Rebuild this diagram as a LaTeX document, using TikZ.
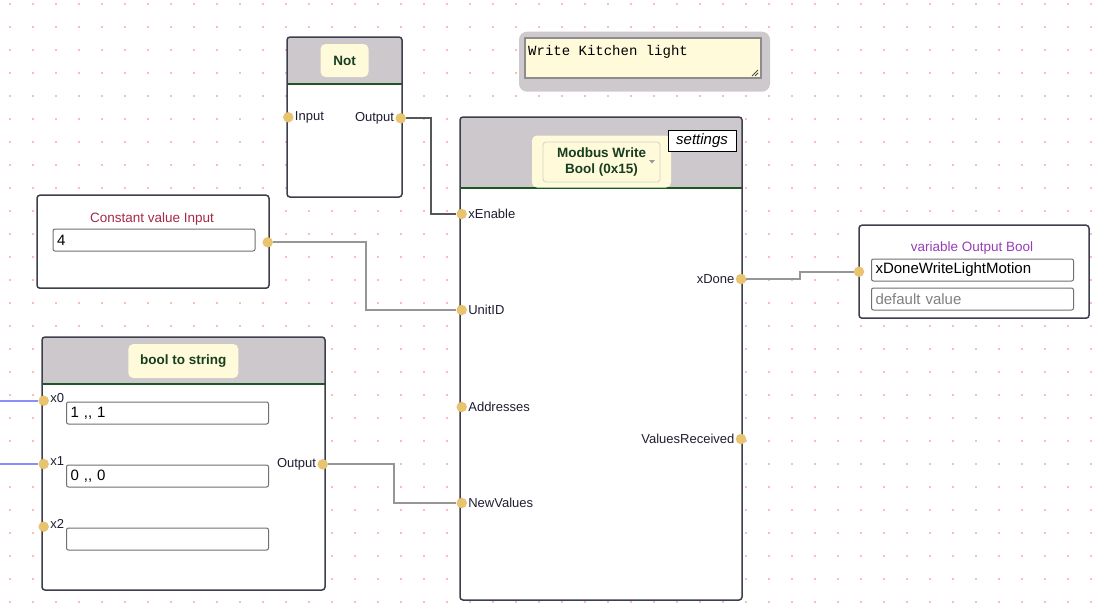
\documentclass[tikz,border=0pt]{standalone}
\usepackage{fontspec}
\setmainfont{Liberation Sans}
\setmonofont{Liberation Mono}
\usepackage{xcolor}

\definecolor{hdrgray}{RGB}{205,200,204}
\definecolor{chipyel}{RGB}{255,250,218}
\definecolor{sepgreen}{RGB}{28,88,36}
\definecolor{titgreen}{RGB}{22,62,32}
\definecolor{portc}{RGB}{232,196,112}
\definecolor{framec}{RGB}{62,62,76}
\definecolor{wirec}{RGB}{150,150,150}
\definecolor{wiredk}{RGB}{85,88,88}
\definecolor{bluewire}{RGB}{140,140,250}
\definecolor{gridc}{RGB}{245,120,120}
\definecolor{constc}{RGB}{165,42,72}
\definecolor{varc}{RGB}{150,62,180}
\definecolor{cmtgray}{RGB}{206,201,205}
\definecolor{labc}{RGB}{30,30,50}

% block with grey header, green rule and frame
\newcommand{\fblock}[5]{%
  \fill[white, rounded corners=3pt] (#1,#2) rectangle (#3,#4);
  \begin{scope}
    \clip[rounded corners=3pt] (#1,#2) rectangle (#3,#4);
    \fill[hdrgray] (#1,#2) rectangle (#3,#5);
  \end{scope}
  \draw[sepgreen, line width=2.2pt] (#1,#5) -- (#3,#5);
  \draw[frame] (#1,#2) rectangle (#3,#4);}

\begin{document}
\begin{tikzpicture}[x=1pt, y=-1pt,
    frame/.style={framec, line width=1.5pt, rounded corners=3pt},
    plainbox/.style={draw=framec, line width=1.5pt, fill=white, rounded corners=3pt, inner sep=0pt},
    chip/.style={fill=chipyel, rounded corners=5pt, text=titgreen, font=\fontsize{13.5}{16}\selectfont\bfseries, align=center, inner sep=0pt},
    port/.style={circle, fill=portc, minimum size=10.5pt, inner sep=0pt},
    lab/.style={text=labc, font=\fontsize{13}{15}\selectfont, inner sep=1pt},
    fld/.style={draw={rgb,255:red,112;green,112;blue,112}, line width=1pt, fill=white, rounded corners=2pt, minimum height=22pt, text width=194pt, inner xsep=4pt, inner ysep=0pt, align=left, font=\fontsize{15}{17}\selectfont},
    wire/.style={wirec, line width=2pt},
    ttl/.style={font=\fontsize{13.5}{16}\selectfont, inner sep=0pt}]
\useasboundingbox (0,0) rectangle (1097,606);
\fill[white] (0,0) rectangle (1097,606);

% dotted grid
\foreach \i in {0,...,47}
  \foreach \j in {0,...,26}
    \fill[gridc] (10+23*\i,4+23*\j) circle (0.8pt);

% comment
\node[fill=cmtgray, rounded corners=8pt, minimum width=251pt, minimum height=60pt] (cmt) at (644.5,61.7) {};
\node[draw={rgb,255:red,140;green,140;blue,140}, line width=1.8pt, fill=chipyel, minimum width=236pt, minimum height=40pt, inner sep=0pt] (cmtxt) at (643.3,58.3) {};
\node[anchor=base west, inner sep=0pt, font=\ttfamily\fontsize{14}{16}\selectfont] (cmtl) at (528,55) {Write Kitchen light};
\draw[gray!60!black, line width=0.9pt] (752,76) -- (758,70) (755,76) -- (758,73);

% Not
\fblock{287}{37}{402}{197}{84}
\node[chip, minimum width=48pt, minimum height=33pt] (nott) at (344.5,60.5) {Not};

% Modbus Write
\fblock{460}{117}{742}{600}{188}
\node[chip, minimum width=139pt, minimum height=52pt] (mbc) at (601.5,161.5) {};
\node[draw={rgb,255:red,215;green,212;blue,200}, line width=0.9pt, fill=chipyel, rounded corners=3pt, minimum width=117pt, minimum height=40pt, text=titgreen, font=\fontsize{13.5}{16}\selectfont\bfseries, align=center, inner sep=0pt] (mbt) at (601.5,162) {Modbus Write\\Bool (0x15)};
\fill[gray!80] (649,160) -- (655,160) -- (652,163.5) -- cycle;
\node[draw=black, line width=1pt, fill=white, minimum width=68pt, minimum height=21pt, inner sep=0pt, font=\fontsize{15}{17}\selectfont\itshape] (set) at (702,141) {settings};

% Constant value Input
\node[plainbox, minimum width=232pt, minimum height=93pt] (cbox) at (153,241.7) {};
\node[ttl, text=constc] (ctit) at (152,219) {Constant value Input};
\node[fld] (cval) at (154,240) {4};

% variable Output Bool
\node[plainbox, minimum width=230pt, minimum height=93pt] (vbox) at (974,271.7) {};
\node[ttl, text=varc] (vtit) at (972,248) {variable Output Bool};
\node[fld] (vname) at (972.5,270) {xDoneWriteLightMotion};
\node[fld, text=gray] (vdef) at (972.5,299) {default value};

% bool to string
\fblock{42}{337}{325}{590}{384}
\node[chip, minimum width=110pt, minimum height=34pt] (bts) at (183.3,361) {bool to string};
\node[fld] (f0) at (167.5,413) {1 {,}{,} 1};
\node[fld] (f1) at (167.5,476) {0 {,}{,} 0};
\node[fld] (f2) at (167.5,539) {};

% ports
\node[port] (nin) at (288.3,117.3) {};
\node[port] (nout) at (400.7,118.3) {};
\node[port] (xen) at (461.7,214) {};
\node[port] (uid) at (461.7,310) {};
\node[port] (adr) at (461.7,407) {};
\node[port] (nv) at (461.7,503) {};
\node[port] (xdn) at (741,279) {};
\node[port] (vrc) at (741,439) {};
\node[port] (cout) at (267.7,242.3) {};
\node[port] (vin) at (859,271.7) {};
\node[port] (x0) at (43.7,400.7) {};
\node[port] (x1) at (43.7,464) {};
\node[port] (x2) at (43.7,526.7) {};
\node[port] (bout) at (322.7,464.3) {};

% port labels
\node[lab, anchor=west] at (nin.east) {Input};
\node[lab, anchor=east] at (nout.west) {Output};
\node[lab, anchor=west] at (xen.east) {xEnable};
\node[lab, anchor=west] at (uid.east) {UnitID};
\node[lab, anchor=west] at (adr.east) {Addresses};
\node[lab, anchor=west] at (nv.east) {NewValues};
\node[lab, anchor=east] at (xdn.west) {xDone};
\node[lab, anchor=east] at (vrc.west) {ValuesReceived};
\node[lab, anchor=west, yshift=3pt] at (x0.east) {x0};
\node[lab, anchor=west, yshift=3pt] at (x1.east) {x1};
\node[lab, anchor=west, yshift=3pt] at (x2.east) {x2};
\node[lab, anchor=east] at (bout.west) {Output};

% connectors
\coordinate (l0) at (0,400.7);
\coordinate (l1) at (0,464);
\draw[wiredk, line width=2pt] (nout.east) -- ++(25,0) |- (xen.west);
\draw[wire] (cout.east) -- ++(92.5,0) |- (uid.west);
\draw[wire] (bout.east) -- ++(65.5,0) |- (nv.west);
\draw[wire] (xdn.east) -- ++(54,0) |- (vin.west);
\draw[bluewire, line width=2pt] (l0) -- (x0.west);
\draw[bluewire, line width=2pt] (l1) -- (x1.west);
\end{tikzpicture}
\end{document}
